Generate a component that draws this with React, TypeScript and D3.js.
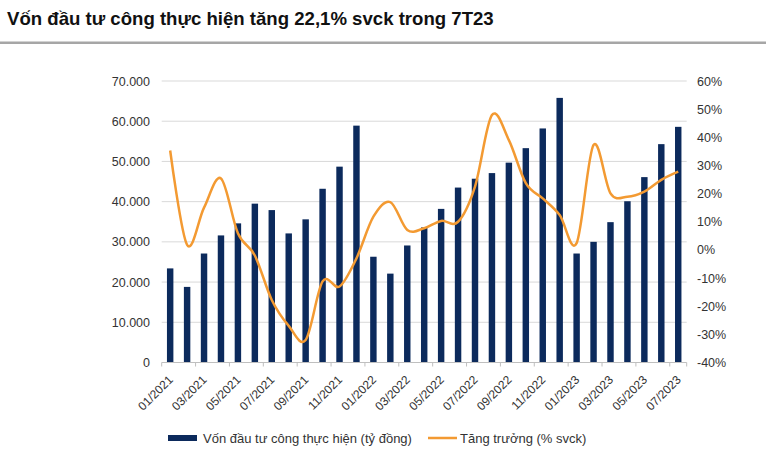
import React from "react";
import * as d3 from "d3";

const months = [
  "01/2021","02/2021","03/2021","04/2021","05/2021","06/2021","07/2021","08/2021","09/2021","10/2021","11/2021","12/2021",
  "01/2022","02/2022","03/2022","04/2022","05/2022","06/2022","07/2022","08/2022","09/2022","10/2022","11/2022","12/2022",
  "01/2023","02/2023","03/2023","04/2023","05/2023","06/2023","07/2023",
];
const capital = [
  23400, 18800, 27100, 31600, 34600, 39500, 37900, 32100, 35600, 43200, 48700, 58900,
  26300, 22100, 29100, 33600, 38200, 43500, 45700, 47100, 49700, 53300, 58200, 65800,
  27100, 30000, 34900, 40100, 46100, 54300, 58600,
];
const growth = [
  35.3, 1.8, 15, 25.4, 5.9, -2, -17.8, -27, -32, -11.2, -13, -3,
  11.8, 17, 7.1, 7.7, 10.3, 10, 22.5, 47.9, 39, 23.7, 18.3, 12.4,
  2.4, 37.3, 20.1, 18.9, 20.7, 24.9, 27.8,
];
const leftTicks = [0, 10000, 20000, 30000, 40000, 50000, 60000, 70000];
const rightTicks = [-40, -30, -20, -10, 0, 10, 20, 30, 40, 50, 60];
const title = "Vốn đầu tư công thực hiện tăng 22,1% svck trong 7T23";
const legendBar = "Vốn đầu tư công thực hiện (tỷ đồng)";
const legendLine = "Tăng trưởng (% svck)";

const W = 766, H = 462;
const L = 161.7, R = 686.7, T = 81, B = 362.5;
const BAR = "#0c2a5c";
const LINE = "#f39a32";
const FONT = "'Liberation Sans', Arial, sans-serif";

export default function App() {
  const x = d3.scaleBand<string>().domain(months).range([L, R]).paddingInner(0.62).paddingOuter(0.31);
  const step = x.step();
  const yl = d3.scaleLinear().domain([0, 70000]).range([B, T]);
  const yr = d3.scaleLinear().domain([-40, 60]).range([B, T]);
  const fmtL = (v: number) => d3.format(",")(v).replace(/,/g, ".");
  const center = (m: string) => (x(m) as number) + x.bandwidth() / 2;
  const line = d3
    .line<number>()
    .x((_, i) => center(months[i]))
    .y((v) => yr(v))
    .curve(d3.curveCardinal.tension(0));

  return (
    <svg width={W} height={H} style={{ position: "absolute", left: 0, top: 0, background: "#fff" }}>
      <text x={7} y={25} fontFamily={FONT} fontWeight="bold" fontSize={18.6} fill="#111">{title}</text>
      <rect x={0} y={41.5} width={766} height={2.5} fill="#a6a6a6" />
      {leftTicks.slice(1).map((t) => (
        <line key={t} x1={L} x2={R} y1={yl(t)} y2={yl(t)} stroke="#d9d9d9" strokeWidth={1} />
      ))}
      {capital.map((v, i) => (
        <rect key={i} x={x(months[i])} y={yl(v)} width={x.bandwidth()} height={B - yl(v)} fill={BAR} />
      ))}
      <line x1={L} x2={R} y1={B} y2={B} stroke="#bfbfbf" strokeWidth={1} />
      {months.map((m, i) =>
        i % 2 === 0 ? (
          <line key={m} x1={L + i * step} x2={L + i * step} y1={B} y2={B + 4} stroke="#bfbfbf" />
        ) : null
      )}
      <line x1={R} x2={R} y1={B} y2={B + 4} stroke="#bfbfbf" />
      <path d={line(growth) || ""} fill="none" stroke={LINE} strokeWidth={2.5} />
      {leftTicks.map((t) => (
        <text key={t} x={150} y={yl(t) + 4.5} textAnchor="end" fontFamily={FONT} fontSize={12.5} fill="#333">{fmtL(t)}</text>
      ))}
      {rightTicks.map((t) => (
        <text key={t} x={697} y={yr(t) + 4.5} textAnchor="start" fontFamily={FONT} fontSize={12.5} fill="#333">{t + "%"}</text>
      ))}
      {months.map((m, i) =>
        i % 2 === 0 ? (
          <text key={m} transform={`translate(${center(m) + 3.5},${B + 18}) rotate(-45)`} textAnchor="end" fontFamily={FONT} fontSize={12} fill="#333">{m}</text>
        ) : null
      )}
      <rect x={168} y={435} width={29} height={6} fill={BAR} />
      <text x={203} y={443} fontFamily={FONT} fontSize={13} fill="#333">{legendBar}</text>
      <line x1={428} x2={457} y1={438} y2={438} stroke={LINE} strokeWidth={2.5} />
      <text x={460} y={443} fontFamily={FONT} fontSize={13} fill="#333">{legendLine}</text>
    </svg>
  );
}
